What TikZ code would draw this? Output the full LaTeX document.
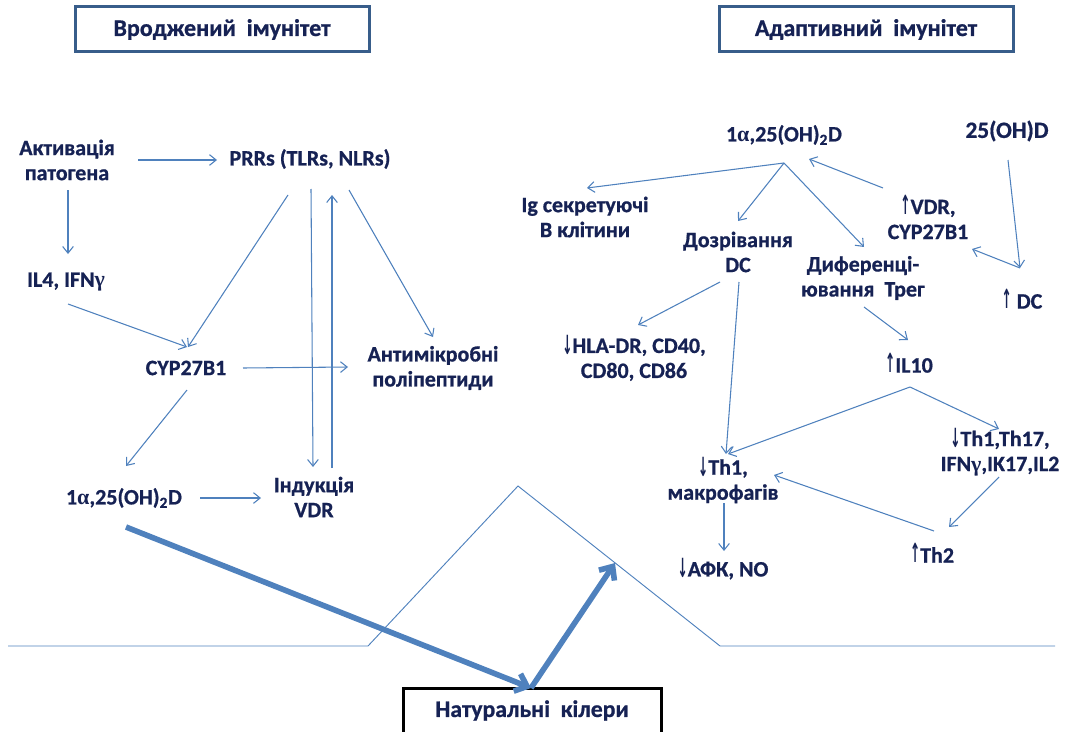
\documentclass[tikz,border=0pt]{standalone}
\usepackage{fontspec}
\setmainfont{Carlito}[BoldFeatures={FakeBold=0.8}]
\newfontfamily\arrfont{DejaVu Sans}
\newfontfamily\grkfont{Liberation Serif}
\usetikzlibrary{arrows.meta}
\definecolor{txt}{RGB}{22,34,84}
\definecolor{ln}{RGB}{79,129,189}
\definecolor{hbox}{RGB}{56,93,138}
\newcommand\upa{\scalebox{0.55}[1.2]{\arrfont\bfseries ↑}}
\newcommand\dna{\raisebox{-1pt}{\scalebox{0.55}[1.2]{\arrfont\bfseries ↓}}}
\newcommand\alf{{\grkfont\bfseries α}}
\newcommand\gam{{\grkfont\bfseries γ}}
\begin{document}
\begin{tikzpicture}[x=0.75pt,y=-0.75pt,
 lbl/.style={text=txt, font=\fontsize{16.5}{18.75}\selectfont\bfseries, align=center, inner sep=0pt},
 hdr/.style={lbl, font=\fontsize{18}{20}\selectfont\bfseries, draw=hbox, line width=2.25pt, minimum width=220.5pt, minimum height=33.75pt},
 nkbox/.style={lbl, font=\fontsize{17.8}{20}\selectfont\bfseries, draw=black, line width=2.25pt, minimum width=193.5pt, minimum height=33.75pt},
 ar/.style={draw=ln, line width=0.8pt, -{Straight Barb[length=5pt,width=8pt]}},
 big/.style={draw=ln, line width=4.2pt, -{Straight Barb[length=8pt,width=14pt]}},
 mount/.style={draw=ln, line width=0.7pt}]
\useasboundingbox (0,0) rectangle (1066,731);

% headers
\node[hdr] (hl) at (222,29.5) {Вроджений\ \ імунітет};
\node[hdr] (hr) at (866,29.5) {Адаптивний\ \ імунітет};

% mountain
\coordinate (ml) at (8,646);
\coordinate (mla) at (368,646);
\coordinate (mp) at (518,486);
\coordinate (mra) at (720,646);
\coordinate (mr) at (1055,646);
\coordinate (mt) at (615,563);
\draw[mount] (ml) -- (mla) -- (mp) -- (mra) -- (mr);

% left nodes
\node[lbl] (akt) at (67,160) {Активація\\патогена};
\node[lbl] (prr) at (310,159) {PRRs (TLRs, NLRs)};
\node[lbl] (il4) at (66,282) {IL4, IFN\gam};
\node[lbl] (cyp) at (186,368) {CYP27B1};
\node[lbl] (anti) at (433,368) {Антимікробні\\поліпептиди};
\node[lbl] (a1l) at (124,498) {1\alf,25(OH)\textsubscript{2}D};
\node[lbl] (ind) at (314,497) {Індукція\\VDR};

% right nodes
\node[lbl] (a1r) at (784,135) {1\alf,25(OH)\textsubscript{2}D};
\node[lbl, font=\fontsize{17.5}{20}\selectfont\bfseries] (oh) at (1007,131) {25(OH)D};
\node[lbl] (ig) at (585,217) {Ig секретуючі\\В клітини};
\node[lbl] (vdr) at (928,217) {\upa VDR,\\CYP27B1};
\node[lbl] (doz) at (738,252) {Дозрівання\\DC};
\node[lbl] (dif) at (863,278) {Диференці-\\ювання\ \ Трег};
\node[lbl] (dc) at (1022,299) {\upa\ DC};
\node[lbl] (hla) at (634,358) {\dna HLA-DR, CD40,\\CD80, CD86};
\node[lbl] (il10) at (909,363) {\upa IL10};
\node[lbl] (th17) at (1000,452) {\dna Th1,Th17,\\IFN\gam,IK17,IL2};
\node[lbl] (th1) at (723,480) {\dna Th1,\\макрофагів};
\node[lbl] (th2) at (932,553) {\upa Th2};
\node[lbl] (afk) at (723,569) {\dna АФК, NO};

% bottom box
\node[nkbox] (nk) at (532,710.5) {Натуральні\ \ кілери};

% left connectors
\draw[ar] ([shift={(71,0)}]akt.center) -- ([shift={(-93,1)}]prr.center);
\draw[ar] ([shift={(1,30)}]akt.center) -- ([shift={(2,-28)}]il4.center);
\draw[ar] ([shift={(2,22)}]il4.center) -- ([shift={(1,-21)}]cyp.center);
\draw[ar] ([shift={(-22,36)}]prr.center) -- ([shift={(2,-21)}]cyp.center);
\draw[ar] ([shift={(1,30)}]prr.center) -- ([shift={(-1,-30)}]ind.center);
\draw[ar] ([shift={(18,-29)}]ind.center) -- ([shift={(22,36)}]prr.center);
\draw[ar] ([shift={(39,31)}]prr.center) -- ([shift={(0,-31)}]anti.center);
\draw[ar] ([shift={(57,0)}]cyp.center) -- ([shift={(-85,-1)}]anti.center);
\draw[ar] ([shift={(1,22)}]cyp.center) -- ([shift={(2,-32)}]a1l.center);
\draw[ar] ([shift={(76,0)}]a1l.center) -- ([shift={(-53,1)}]ind.center);

% right connectors
\draw[ar] ([shift={(0,28)}]a1r.center) -- ([shift={(2,-29)}]ig.center);
\draw[ar] ([shift={(0,28)}]a1r.center) -- ([shift={(0,-31)}]doz.center);
\draw[ar] ([shift={(0,28)}]a1r.center) -- ([shift={(1,-31)}]dif.center);
\draw[ar] ([shift={(-45,-29)}]vdr.center) -- ([shift={(25,24)}]a1r.center);
\draw[ar] ([shift={(1,29)}]oh.center) -- ([shift={(-2,-31)}]dc.center);
\draw[ar] ([shift={(-2,-31)}]dc.center) -- ([shift={(44,32)}]vdr.center);
\draw[ar] ([shift={(-18,30)}]doz.center) -- ([shift={(4,-33)}]hla.center);
\draw[ar] ([shift={(1,30)}]doz.center) -- ([shift={(3,-26)}]th1.center);
\draw[ar] ([shift={(1,29)}]dif.center) -- ([shift={(-1,-23)}]il10.center);
\draw[ar] ([shift={(1,24)}]il10.center) -- ([shift={(5,-26)}]th1.center);
\draw[ar] ([shift={(1,24)}]il10.center) -- ([shift={(-1,-23)}]th17.center);
\draw[ar] ([shift={(-1,25)}]th17.center) -- ([shift={(17,-26)}]th2.center);
\draw[ar] ([shift={(2,-22)}]th2.center) -- ([shift={(51,-5)}]th1.center);
\draw[ar] ([shift={(1,23)}]th1.center) -- ([shift={(1,-18)}]afk.center);

% thick arrows
\draw[big] ([shift={(2,29)}]a1l.center) -- ([shift={(-1,-22.5)}]nk.center);
\draw[big] ([shift={(-1,-22.5)}]nk.center) -- (mt);
\end{tikzpicture}
\end{document}
